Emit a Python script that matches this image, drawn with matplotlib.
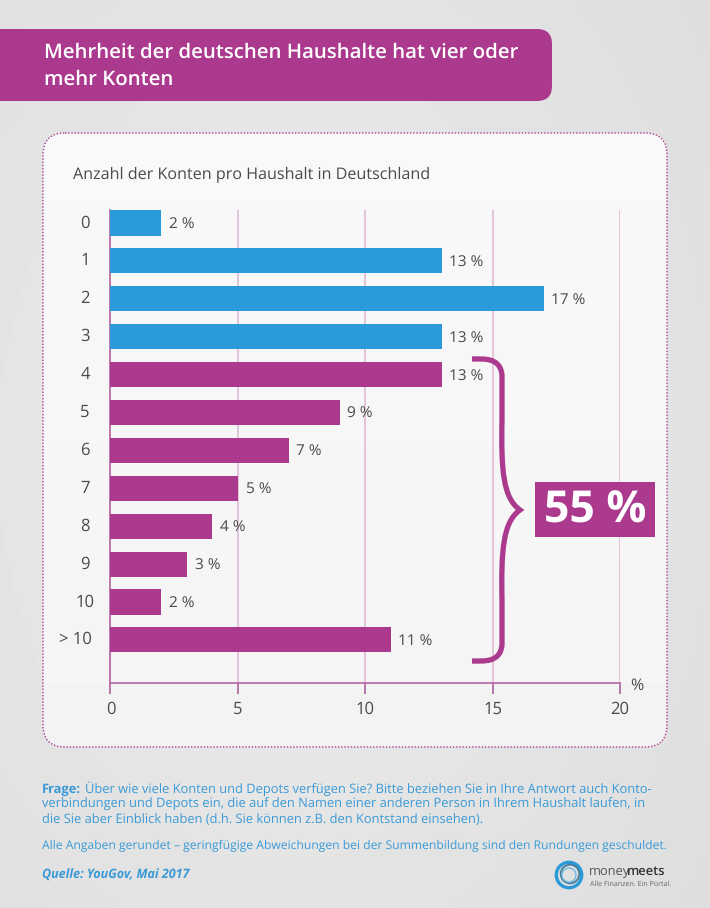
import numpy as np
import matplotlib
matplotlib.use('Agg')
import matplotlib.pyplot as plt
from matplotlib.patches import FancyBboxPatch, PathPatch, Rectangle, Circle
from matplotlib.path import Path
from matplotlib.transforms import ScaledTranslation

plt.rcParams['font.family'] = ['Open Sans', 'DejaVu Sans']
plt.rcParams['text.hinting'] = 'none'
plt.rcParams['text.hinting_factor'] = 8

# Daten
kategorien = ['0', '1', '2', '3', '4', '5', '6', '7', '8', '9', '10', '> 10']
werte = [2, 13, 17, 13, 13, 9, 7, 5, 4, 3, 2, 11]
gruppen = ['unter4'] * 4 + ['ab4'] * 8
x_ticks = [0, 5, 10, 15, 20]

LILA = '#ab3a8e'
BLAU = '#2a9ad8'
TEXT = '#4a4a4a'
FUSS = '#3a9ad6'
farben = {'unter4': BLAU, 'ab4': LILA}

B, H = 710, 908
fig = plt.figure(figsize=(B / 100, H / 100), dpi=100)

# Hintergrund in Pixelkoordinaten
bg = fig.add_axes([0, 0, 1, 1])
bg.set_xlim(0, B)
bg.set_ylim(H, 0)
bg.axis('off')
yy, xx = np.mgrid[0:1:200j, 0:1:200j]
verlauf = 0.925 - 0.075 * np.clip(np.hypot(xx - 0.4, (yy - 0.5) * 0.9), 0, 1)
bg.imshow(verlauf, cmap='gray', vmin=0, vmax=1, extent=(0, B, H, 0), aspect='auto', zorder=0)

# Titelbalken
bg.add_patch(FancyBboxPatch((-40, 29), 592, 72, boxstyle='round,pad=0,rounding_size=15',
                            fc=LILA, ec='none', zorder=1))
bg.text(44, 53, 'Mehrheit der deutschen Haushalte hat vier oder', color='white', fontsize=14.66,
        fontweight='semibold', va='center', zorder=2)
bg.text(44, 79.5, 'mehr Konten', color='white', fontsize=14.66, fontweight='semibold', va='center', zorder=2)

# Rahmen um das Diagramm, innen leichter Verlauf
rahmen = FancyBboxPatch((43, 133), 624, 614, boxstyle='round,pad=0,rounding_size=22',
                        fc='none', ec=LILA, lw=1.0, ls=(0, (1, 1.3)), zorder=2)
bg.add_patch(rahmen)
innen = bg.imshow(0.975 - 0.02 * yy, cmap='gray', vmin=0, vmax=1, extent=(43, 667, 747, 133),
                  aspect='auto', zorder=1)
innen.set_clip_path(rahmen)
bg.set_xlim(0, B)
bg.set_ylim(H, 0)
bg.text(73, 174.5, 'Anzahl der Konten pro Haushalt in Deutschland', color=TEXT, fontsize=11.6,
        va='center', zorder=3)

# Diagramm
ax = fig.add_axes([110.5 / B, 1 - 683 / H, (620 - 110.5) / B, (683 - 210) / H])
ax.patch.set_alpha(0)
y = np.arange(len(kategorien))
ax.barh(y, werte, height=0.66, color=[farben[g] for g in gruppen], zorder=3)
for i, w in enumerate(werte):
    ax.text(w + 0.3, i + 0.05, f'{w} %', color=TEXT, fontsize=11.1, va='center', zorder=4)

ax.set_xlim(0, 20)
ax.set_ylim(12.137, -0.343)
ax.set_xticks(x_ticks)
ax.set_yticks(y)
ax.set_yticklabels(kategorien, ha='center')
ax.tick_params(axis='y', left=False, pad=14.8, labelsize=12, labelcolor=TEXT)
ax.tick_params(axis='x', length=8, width=1.1, color='#a8559a', pad=5, labelsize=12, labelcolor=TEXT)
# Beschriftung der y-Achse sitzt etwas ueber der Balkenmitte, "> 10" weiter links
for label, kat in zip(ax.get_yticklabels(), kategorien):
    dx = -0.10 if kat == '> 10' else 0
    label.set_transform(label.get_transform() + ScaledTranslation(dx, 1.5 / 72, fig.dpi_scale_trans))
ax.grid(axis='x', color='#dcb6d3', lw=1.1, zorder=1)
for s in ['top', 'right']:
    ax.spines[s].set_visible(False)
for s in ['left', 'bottom']:
    ax.spines[s].set_color('#b565a3')
    ax.spines[s].set_linewidth(1.2)
ax.text(20.4, 12.2, '%', color=TEXT, fontsize=11.5, ha='left', va='center', clip_on=False)

# Klammer und 55 %
over = fig.add_axes([0, 0, 1, 1])
over.set_xlim(0, B)
over.set_ylim(H, 0)
over.axis('off')
klammer = Path(
    [(472, 359), (484, 359), (500, 357), (502, 375), (502, 420),
     (501, 470), (503, 498), (520, 510),
     (503, 522), (501, 550), (502, 600), (502, 645), (500, 663), (484, 661), (472, 661)],
    [Path.MOVETO, Path.CURVE4, Path.CURVE4, Path.CURVE4, Path.LINETO,
     Path.CURVE4, Path.CURVE4, Path.CURVE4,
     Path.CURVE4, Path.CURVE4, Path.CURVE4, Path.LINETO, Path.CURVE4, Path.CURVE4, Path.CURVE4])
over.add_patch(PathPatch(klammer, fc='none', ec=LILA, lw=3.8, capstyle='butt', joinstyle='miter'))
over.add_patch(Rectangle((535, 482), 120, 55, fc=LILA, ec='none'))
over.text(595, 511, '55 %', color='white', fontsize=32, fontweight='bold', ha='center', va='center')

# Fusszeile
GR = 9.27
over.text(42, 789, 'Frage:', color=FUSS, fontsize=GR, fontweight='bold', va='center')
over.text(85, 789, 'Über wie viele Konten und Depots verfügen Sie? Bitte beziehen Sie in Ihre Antwort auch Konto-',
          color=FUSS, fontsize=GR, va='center')
over.text(42, 804, 'verbindungen und Depots ein, die auf den Namen einer anderen Person in Ihrem Haushalt laufen, in',
          color=FUSS, fontsize=GR, va='center')
over.text(42, 820, 'die Sie aber Einblick haben (d.h. Sie können z.B. den Kontstand einsehen).',
          color=FUSS, fontsize=GR, va='center')
over.text(42, 846, 'Alle Angaben gerundet – geringfügige Abweichungen bei der Summenbildung sind den Rundungen geschuldet.',
          color=FUSS, fontsize=8.72, va='center')
over.text(42, 875.5, 'Quelle: YouGov, Mai 2017', color=FUSS, fontsize=9.0, fontweight='bold', style='italic', va='center')

# Logo
over.add_patch(Circle((569, 875), 12.7, fc='none', ec='#2a9ad8', lw=2.4))
over.add_patch(Circle((570, 874), 9.3, fc='none', ec='#4a7f9c', lw=1.4))
over.add_patch(Circle((569, 875), 7, fc='none', ec='#6fbbe3', lw=1))
over.text(589, 871.5, 'money', color='#555555', fontsize=9.3, va='center')
over.text(627, 871.5, 'meets', color='#333333', fontsize=9.3, fontweight='semibold', va='center')
over.text(590, 884, 'Alle Finanzen. Ein Portal.', color='#666666', fontsize=5.1, va='center')

fig.savefig('out.png', dpi=100)
